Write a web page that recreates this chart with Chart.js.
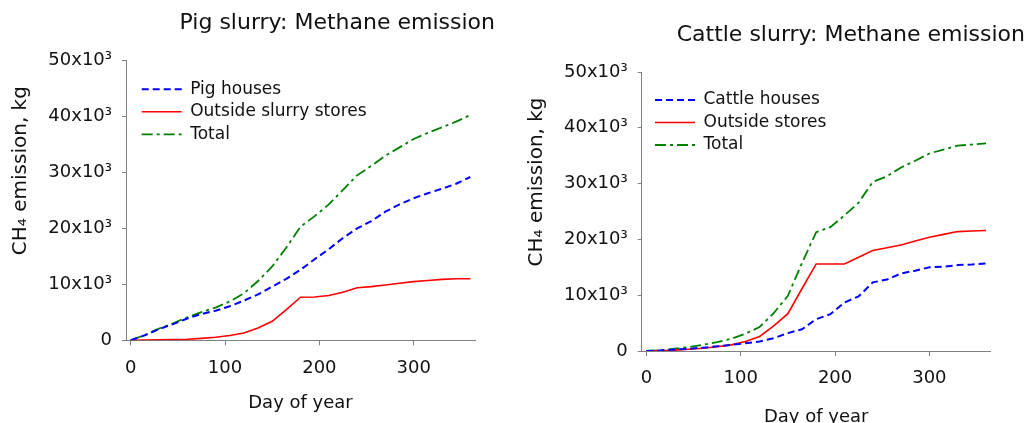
<!DOCTYPE html>
<html>
<head>
<meta charset="utf-8">
<script src="https://cdn.jsdelivr.net/npm/chart.js@4/dist/chart.umd.min.js"></script>
<style>
  body { margin: 0; background: #fff; width: 1032px; height: 423px; position: relative; overflow: hidden; }
  canvas { position: absolute; top: 0; }
  #pigChart { left: 0; }
  #cattleChart { left: 516px; }
</style>
</head>
<body>
<canvas id="pigChart" width="495" height="423"></canvas>
<canvas id="cattleChart" width="516" height="423"></canvas>
<script>
// Day of year (x values shared by both charts)
const days = [0, 15, 30, 45, 60, 75, 90, 105, 120, 135, 150, 165, 180, 195, 210, 225, 240, 255, 270, 285, 300, 315, 330, 345, 360];

// Pig slurry, kg CH4 (cumulative)
const pigHouses = [0, 900, 2000, 2900, 3900, 4700, 5300, 6100, 7100, 8200, 9600, 11000, 12600, 14500, 16300, 18300, 20000, 21300, 23000, 24300, 25400, 26300, 27100, 28000, 29200];
const pigOutside = [0, 50, 100, 150, 200, 350, 550, 850, 1300, 2200, 3400, 5500, 7700, 7750, 8000, 8600, 9400, 9600, 9900, 10200, 10500, 10700, 10900, 11000, 11000];
const pigTotal = [0, 950, 2100, 3050, 4100, 5050, 5850, 6950, 8400, 10600, 13200, 16600, 20300, 22200, 24300, 26900, 29500, 31200, 33000, 34500, 36000, 37100, 38100, 39100, 40300];

// Cattle slurry, kg CH4 (cumulative)
const cattleHouses = [0, 100, 250, 400, 600, 850, 1100, 1400, 1700, 2300, 3200, 3900, 5700, 6600, 8700, 9800, 12300, 12800, 13900, 14400, 15000, 15100, 15400, 15500, 15700];
const cattleOutside = [0, 50, 150, 300, 500, 750, 1100, 1700, 2600, 4500, 6700, 11200, 15600, 15600, 15600, 16800, 18000, 18500, 19000, 19700, 20400, 20900, 21400, 21500, 21600];
const cattleTotal = [0, 150, 400, 700, 1100, 1600, 2200, 3100, 4300, 6800, 9900, 15800, 21300, 22200, 24300, 26600, 30300, 31300, 32900, 34100, 35400, 36100, 36800, 37000, 37200];

// Axis ticks
const xTicks = [0, 100, 200, 300];
const yTicks = [0, 10000, 20000, 30000, 40000, 50000];
const yTickLabels = ["0", "10x10³", "20x10³", "30x10³", "40x10³", "50x10³"];

const FONT = "'DejaVu Sans', Verdana, sans-serif";
const AXIS = "#808080";
const TEXT = "#111";

function points(ys) {
    return days.map((d, i) => ({ x: d, y: ys[i] }));
}

// legend sits inside the plot, top left; move it there after layout
const legendPlace = {
    id: "legendPlace",
    afterLayout(chart, args, opts) {
        chart.legend.left = chart.chartArea.left + opts.dx;
        chart.legend.top = chart.chartArea.top + opts.dy;
    }
};

function legendItems(chart) {
    return Chart.defaults.plugins.legend.labels.generateLabels(chart).map(item => {
        const ds = chart.data.datasets[item.datasetIndex];
        item.lineDash = ds.borderDash || [];
        item.lineWidth = ds.borderWidth;
        item.strokeStyle = ds.borderColor;
        return item;
    });
}

function makeChart(id, cfg) {
    return new Chart(document.getElementById(id), {
        type: "line",
        plugins: [legendPlace],
        data: {
            datasets: [
                { label: cfg.labels[0], data: points(cfg.houses), borderColor: "#0000ff", borderWidth: 2, borderDash: [7, 4] },
                { label: cfg.labels[1], data: points(cfg.outside), borderColor: "#ff0000", borderWidth: 1.6 },
                { label: cfg.labels[2], data: points(cfg.total), borderColor: "#008000", borderWidth: 1.8, borderDash: [11, 4, 3, 4] }
            ]
        },
        options: {
            responsive: false,
            animation: false,
            events: [],
            elements: { point: { radius: 0 }, line: { tension: 0, fill: false } },
            layout: { padding: { left: 0, right: cfg.padRight, top: 0, bottom: 0 } },
            plugins: {
                title: {
                    display: true,
                    text: cfg.title,
                    align: "end",
                    color: TEXT,
                    font: { family: FONT, size: 22, weight: "normal", lineHeight: 1.2 },
                    padding: { top: cfg.titleTop, bottom: cfg.titleBottom }
                },
                legend: {
                    position: "chartArea",
                    align: "start",
                    labels: {
                        usePointStyle: true,
                        pointStyle: "line",
                        pointStyleWidth: 40,
                        padding: 5.5,
                        color: TEXT,
                        font: { family: FONT, size: 17 },
                        generateLabels: legendItems
                    }
                },
                legendPlace: { dx: cfg.legendDx, dy: cfg.legendDy },
                tooltip: { enabled: false }
            },
            scales: {
                x: {
                    type: "linear",
                    min: -5,
                    max: 365,
                    afterBuildTicks: (s) => { s.ticks = xTicks.map(v => ({ value: v })); },
                    afterFit: (s) => { s.height = cfg.xHeight; s.paddingRight = cfg.xPadRight; },
                    grid: { display: true, drawOnChartArea: false, drawTicks: true, tickLength: 5, color: AXIS },
                    border: { display: true, color: AXIS, width: 1 },
                    ticks: { color: TEXT, padding: 12, maxRotation: 0, font: { family: FONT, size: 18 } },
                    title: {
                        display: true,
                        text: "Day of year",
                        color: TEXT,
                        font: { family: FONT, size: 18 },
                        padding: { top: 0, bottom: cfg.xTitleBottom }
                    }
                },
                y: {
                    type: "linear",
                    min: 0,
                    max: 50000,
                    afterBuildTicks: (s) => { s.ticks = yTicks.map(v => ({ value: v })); },
                    afterFit: (s) => { s.width = cfg.yWidth; },
                    grid: { display: true, drawOnChartArea: false, drawTicks: true, tickLength: 4, color: AXIS },
                    border: { display: true, color: AXIS, width: 1 },
                    ticks: {
                        color: TEXT,
                        padding: 10,
                        font: { family: FONT, size: 18 },
                        callback: (v) => yTickLabels[yTicks.indexOf(v)]
                    },
                    title: {
                        display: true,
                        // trailing no-break spaces keep the title a little below the top of the axis
                        text: "CH₄ emission, kg\u00a0\u00a0\u00a0\u00a0",
                        align: "end",
                        color: TEXT,
                        font: { family: FONT, size: 20 },
                        padding: { top: 9, bottom: 0 }
                    }
                }
            }
        }
    });
}

makeChart("pigChart", {
    title: "Pig slurry: Methane emission",
    labels: ["Pig houses", "Outside slurry stores", "Total"],
    houses: pigHouses, outside: pigOutside, total: pigTotal,
    padRight: 0, titleTop: 10, titleBottom: 24.3,
    xHeight: 82.7, xPadRight: 20, xTitleBottom: 9, yWidth: 126,
    legendDx: 10.2, legendDy: 14.6
});

makeChart("cattleChart", {
    title: "Cattle slurry: Methane emission",
    labels: ["Cattle houses", "Outside stores", "Total"],
    houses: cattleHouses, outside: cattleOutside, total: cattleTotal,
    padRight: 7, titleTop: 21.8, titleBottom: 23.8,
    xHeight: 72, xPadRight: 41.3, xTitleBottom: -4.8, yWidth: 125.7,
    legendDx: 7.8, legendDy: 14
});
</script>
</body>
</html>
